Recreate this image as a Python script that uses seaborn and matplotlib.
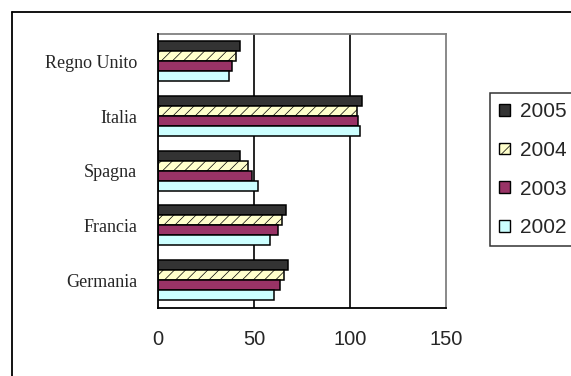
import matplotlib
matplotlib.use("Agg")
import matplotlib.pyplot as plt
from matplotlib.patches import Patch
from matplotlib.lines import Line2D
import seaborn as sns
import pandas as pd

# Countries (top to bottom) and yearly values
countries = ["Regno Unito", "Italia", "Spagna", "Francia", "Germania"]
years = ["2005", "2004", "2003", "2002"]
values_2005 = [42.8, 106.3, 42.6, 66.7, 67.7]
values_2004 = [40.5, 103.9, 46.8, 64.6, 65.5]
values_2003 = [38.3, 104.0, 48.8, 62.5, 63.4]
values_2002 = [37.2, 105.1, 51.9, 58.2, 60.3]
x_ticks = [0, 50, 100, 150]

series = {"2005": values_2005, "2004": values_2004,
          "2003": values_2003, "2002": values_2002}
df = pd.DataFrame(
    [(c, y, series[y][i]) for y in years for i, c in enumerate(countries)],
    columns=["paese", "anno", "valore"],
)

colors = {"2005": "#333333", "2004": "#FFFFCC", "2003": "#993366", "2002": "#CCFFFF"}

sns.set_theme(style="white")
plt.rcParams["hatch.linewidth"] = 0.5

W, H = 571, 376
fig = plt.figure(figsize=(W / 100, H / 100), dpi=100)
ax = fig.add_axes([158 / W, 1 - 307.5 / H, (446 - 158) / W, (307.5 - 34) / H])

sns.barplot(data=df, y="paese", x="valore", hue="anno", order=countries,
            hue_order=years, palette=colors, orient="h", width=0.73,
            edgecolor="black", linewidth=1.1, saturation=1, legend=False, ax=ax)

# dotted pattern on the 2004 bars
for bar in ax.containers[1]:
    bar.set_hatch("///")

ax.set_xlim(0, 150)
ax.set_ylim(4.5, -0.5)
ax.set_xticks(x_ticks)
ax.set_xticklabels([str(t) for t in x_ticks], fontsize=14.5,
                   family=["Liberation Sans", "DejaVu Sans"])
ax.set_xlabel("")
ax.set_ylabel("")
ax.grid(False)
for xv in x_ticks[1:-1]:
    ax.axvline(xv, color="black", lw=1.2, zorder=0.5)

ax.set_yticks(range(len(countries)))
ax.set_yticklabels(countries, fontsize=13, family=["Liberation Serif", "DejaVu Serif"])
ax.set_yticks([i - 0.5 for i in range(len(countries) + 1)], minor=True)
ax.tick_params(axis="y", which="major", length=0, pad=15)
ax.tick_params(axis="y", which="minor", length=5, width=1.1, color="black", direction="out")
ax.tick_params(axis="x", which="major", length=5, width=1.1, color="black",
               direction="out", pad=11)

for side in ["left", "bottom"]:
    ax.spines[side].set_color("black")
    ax.spines[side].set_linewidth(1.3)
for side in ["top", "right"]:
    ax.spines[side].set_color("#808080")
    ax.spines[side].set_linewidth(1.3)
ax.spines["left"].set_zorder(3)

handles = [Patch(facecolor=colors[y], edgecolor="black", linewidth=1.0,
                 hatch="///" if y == "2004" else None) for y in years]
leg = fig.legend(handles, years, loc="upper left",
                 bbox_to_anchor=(490 / W, 1 - 93 / H), bbox_transform=fig.transFigure,
                 borderaxespad=0, frameon=True, fancybox=False,
                 prop={"family": ["Liberation Sans", "DejaVu Sans"], "size": 15},
                 handlelength=0.5, handleheight=0.5, handletextpad=0.5,
                 labelspacing=0.94, borderpad=0.45)
leg.get_frame().set_edgecolor("black")
leg.get_frame().set_linewidth(1.1)

# outer chart frame (left and top edges visible)
fig.add_artist(Line2D([11.5 / W, 11.5 / W], [0, 1 - 12 / H], color="black", lw=1.3,
                      transform=fig.transFigure))
fig.add_artist(Line2D([11.5 / W, 1], [1 - 12 / H, 1 - 12 / H], color="black", lw=1.3,
                      transform=fig.transFigure))

fig.savefig("out.png", dpi=100, facecolor="white")
